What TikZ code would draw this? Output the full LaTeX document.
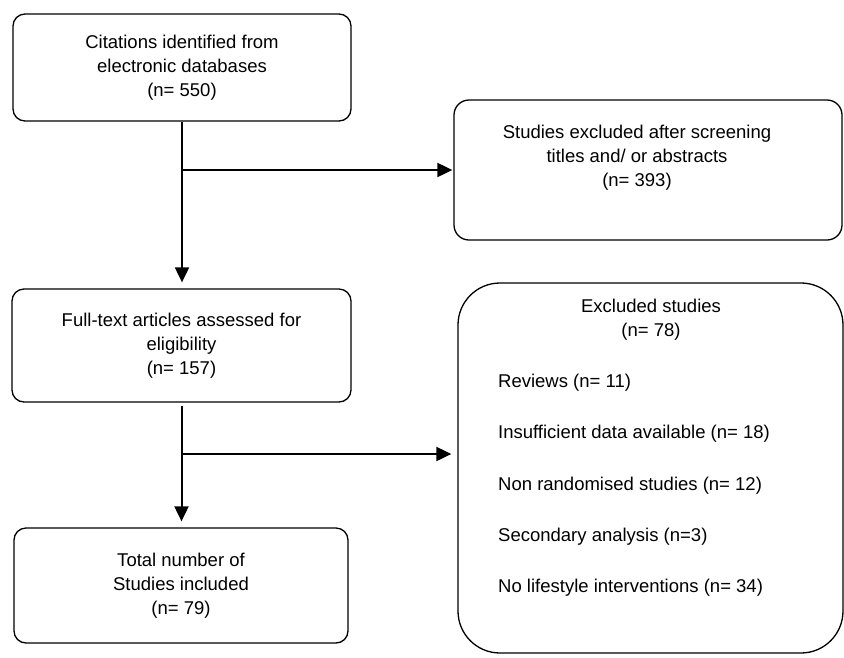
\documentclass[tikz,border=0pt]{standalone}
\usepackage{fontspec}
\setmainfont{Liberation Sans}
\usetikzlibrary{arrows.meta,positioning}

\begin{document}
\begin{tikzpicture}[x=1pt,y=-1pt,
  box/.style={draw,rounded corners=12pt,line width=1.3pt,align=center,inner sep=0pt,
    font=\fontsize{18.5}{24}\selectfont},
  txt/.style={align=center,inner sep=0pt,font=\fontsize{18.5}{24}\selectfont},
  arr/.style={-{Triangle[length=15pt,width=14pt]},line width=2pt}
]
\useasboundingbox (0,0) rectangle (844,657);

\node[box,minimum width=338pt,minimum height=107pt]
  (cit) at (182,67.5) {Citations identified from\\electronic databases\\(n= 550)};
\node[box,minimum width=339pt,minimum height=113pt]
  (full) at (181.5,345.5) {Full-text articles assessed for\\eligibility\\(n= 157)};
\node[box,minimum width=334pt,minimum height=115pt]
  (total) at (181,585.5) {Total number of\\Studies included\\(n= 79)};

\node[box,rounded corners=15pt,minimum width=388pt,minimum height=140pt]
  (screen) at (648,170) {};
\node[txt] (screentxt) at (637,158) {Studies excluded after screening\\titles and/ or abstracts\\(n= 393)};

\node[box,rounded corners=42pt,minimum width=385pt,minimum height=370pt]
  (excl) at (650.5,468) {};
\node[txt] (excltxt) at (651,320) {Excluded studies\\(n= 78)};
\node[txt,anchor=west] (r1) at (498,383) {Reviews (n= 11)};
\node[txt,anchor=west] (r2) at (498,434) {Insufficient data available (n= 18)};
\node[txt,anchor=west] (r3) at (498,486) {Non randomised studies (n= 12)};
\node[txt,anchor=west] (r4) at (498,537) {Secondary analysis (n=3)};
\node[txt,anchor=west] (r5) at (498,588) {No lifestyle interventions (n= 34)};

\coordinate (j1) at (cit.south |- screen.west);
\coordinate (j2) at (181,454);

\draw[arr,shorten >=6pt] (cit.south) -- (cit.south |- full.north);
\draw[arr,shorten >=1pt] (j1) -- (screen.west);
\draw[arr,shorten <=3pt,shorten >=6pt] (full.south) -- (full.south |- total.north);
\draw[arr,shorten >=6pt] (j2) -- (j2 -| excl.west);
\end{tikzpicture}
\end{document}
